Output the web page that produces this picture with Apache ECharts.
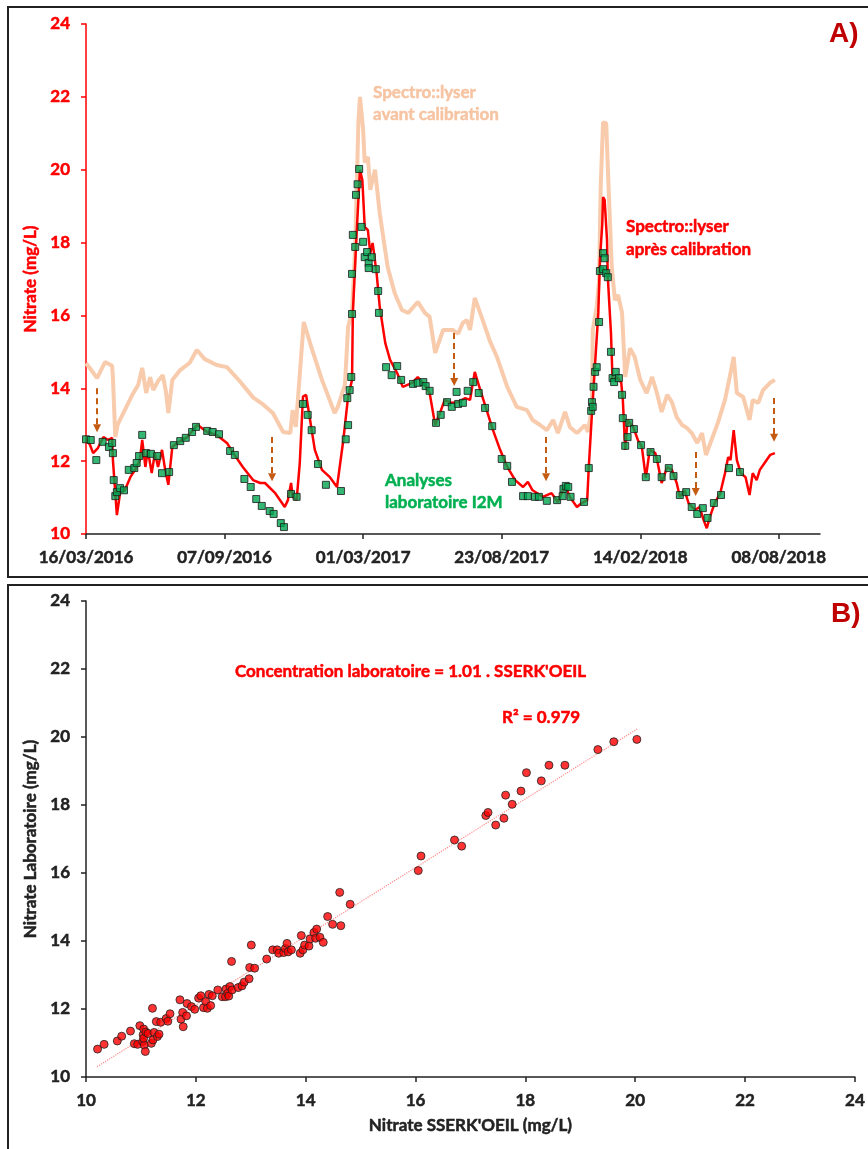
<!DOCTYPE html>
<html lang="fr">
<head>
    <meta charset="UTF-8">
    <title>Nitrate - Spectro::lyser</title>
    <script src="https://cdn.jsdelivr.net/npm/echarts@6.0.0/dist/echarts.min.js"></script>
    <style>
        html, body { margin: 0; padding: 0; background: #fff; }
        #main { width: 868px; height: 1149px; }
    </style>
</head>
<body>
<div id="main"></div>
<script type="text/javascript">
    // --- donnees (jours depuis le 16/03/2016, mg/L) ---
    var startDate = '2016-03-16';
    var endDate = '2018-09-29';
    var tickDates = ['2016-03-16', '2016-09-07', '2017-03-01', '2017-08-23', '2018-02-14', '2018-08-08'];

    // Spectro::lyser avant calibration
    var avantCalib = [[0,14.69],[5,14.55],[14,14.28],[24,14.72],[33,14.62],[34,14.3],[37,12.66],[40,13.0],[49,13.4],[58,13.8],
        [66,14.1],[71,14.56],[76,13.87],[81,14.3],[85,13.95],[91,14.2],[97,14.36],[101,13.9],[104,13.32],[109,14.23],
        [119,14.5],[131,14.7],[140,15.05],[150,14.8],[165,14.64],[178,14.58],[194,14.2],[211,13.75],[224,13.55],[236,13.32],
        [249,12.8],[258,12.77],[261,13.4],[265,12.94],[275,15.82],[285,15.1],[298,14.23],[314,13.32],[318,13.49],[327,14.1],
        [331,15.68],[336,16.1],[340,17.88],[344,21.3],[346,22.0],[350,21.1],[352,20.2],[356,20.35],[359,19.45],[365,20.0],
        [371,18.8],[381,17.33],[390,16.6],[399,16.15],[407,16.07],[419,16.37],[428,16.07],[434,15.96],[441,14.97],[451,15.6],
        [463,15.6],[470,15.5],[476,15.8],[481,15.87],[485,15.6],[491,16.48],[501,15.87],[510,15.3],[519,14.86],[532,14.04],
        [544,13.49],[557,13.4],[564,13.13],[573,13.0],[582,12.85],[590,13.13],[596,12.77],[605,13.35],[611,12.94],[620,12.77],
        [630,12.99],[634,12.8],[639,13.49],[640,15.6],[645,16.23],[648,16.97],[650,19.5],[653,21.3],[657,21.28],[659,20.07],
        [664,17.33],[668,16.42],[672,16.56],[677,16.07],[681,14.31],[687,15.1],[693,14.86],[700,14.23],[708,13.87],[715,14.31],
        [721,13.87],[727,13.35],[734,13.82],[740,13.62],[746,13.21],[753,12.99],[759,12.91],[765,12.77],[772,12.5],[778,12.77],
        [783,12.17],[790,12.58],[798,13.05],[807,13.68],[813,14.31],[818,14.86],[822,13.87],[830,13.76],[838,13.13],[842,13.68],
        [849,13.6],[855,13.95],[864,14.15],[870,14.23]];

    // Spectro::lyser apres calibration
    var apresCalib = [[0,12.6],[5,12.45],[9,12.22],[15,12.36],[22,12.66],[28,12.58],[33,12.64],[34,12.03],[37,11.12],[39,10.52],
        [43,11.12],[49,11.2],[56,11.56],[62,11.76],[68,12.03],[71,12.58],[75,11.84],[78,12.31],[83,11.67],[87,12.22],
        [91,11.84],[96,12.31],[100,11.76],[104,11.35],[109,12.39],[115,12.5],[128,12.66],[138,12.94],[141,12.99],[153,12.8],
        [165,12.72],[178,12.5],[186,12.22],[198,11.84],[211,11.48],[220,11.4],[226,11.4],[239,11.12],[251,10.74],[255,10.93],
        [259,11.4],[261,11.02],[266,10.93],[270,11.95],[274,13.77],[278,13.82],[283,13.13],[289,12.31],[298,11.76],[308,11.56],
        [317,11.29],[325,12.58],[331,13.77],[336,14.23],[337,16.07],[342,18.34],[346,20.0],[349,19.72],[352,18.43],[356,18.34],
        [359,17.71],[362,17.99],[367,17.16],[371,16.23],[378,15.24],[384,14.78],[393,14.42],[400,14.04],[412,14.15],[419,14.31],
        [428,14.09],[434,13.87],[441,12.99],[447,13.32],[453,13.68],[462,13.6],[470,13.62],[479,13.73],[485,13.68],[491,14.45],
        [498,13.95],[506,13.4],[514,12.85],[523,12.31],[532,11.84],[542,11.48],[552,11.29],[558,11.43],[564,11.2],[577,11.02],
        [588,11.12],[596,10.88],[605,11.35],[611,11.02],[620,10.74],[626,10.85],[633,10.93],[635,11.84],[639,13.32],[643,14.69],
        [647,16.07],[649,17.5],[652,18.5],[653,19.25],[655,19.17],[658,18.07],[659,17.05],[663,15.52],[665,14.23],[671,14.31],
        [676,14.15],[678,13.68],[681,12.31],[684,13.13],[691,12.94],[697,12.58],[702,12.39],[707,11.54],[712,12.31],[719,12.22],
        [722,11.95],[727,11.4],[734,11.84],[740,11.76],[746,11.4],[750,11.02],[756,11.2],[761,10.85],[769,10.66],[775,10.74],
        [780,10.38],[784,10.16],[788,10.47],[794,10.85],[801,11.12],[807,11.67],[811,12.11],[814,12.03],[818,12.85],[822,12.03],
        [827,11.67],[833,11.56],[838,11.07],[842,11.67],[847,11.48],[851,11.76],[857,11.95],[864,12.17],[870,12.22]];

    // Analyses laboratoire I2M
    var labI2M = [[0,12.6],[6,12.58],[13,12.03],[21,12.53],[29,12.39],[33,12.5],[34,12.22],[35,11.48],[37,11.04],[39,11.15],
        [43,11.26],[48,11.2],[54,11.76],[61,11.81],[64,11.95],[67,12.14],[71,12.72],[76,12.22],[82,12.2],[90,12.14],
        [96,11.67],[105,11.7],[111,12.44],[119,12.55],[126,12.64],[134,12.8],[139,12.94],[153,12.83],[160,12.8],[168,12.74],
        [182,12.28],[188,12.17],[200,11.51],[208,11.29],[215,10.96],[222,10.77],[232,10.63],[237,10.55],[246,10.3],[250,10.19],
        [259,11.1],[266,11.02],[274,13.57],[280,13.27],[285,12.85],[293,11.92],[303,11.35],[322,11.18],[328,12.6],[330,13.73],
        [331,12.99],[333,13.95],[335,14.31],[336,16.04],[336,17.14],[337,18.21],[340,17.88],[341,19.31],[343,19.6],[345,20.02],
        [348,18.43],[350,18.02],[352,17.6],[355,17.74],[357,17.44],[357,17.3],[361,17.6],[366,17.27],[369,16.67],[370,16.07],
        [379,14.58],[386,14.36],[393,14.61],[398,14.23],[413,14.12],[419,14.15],[426,14.17],[429,14.06],[434,13.93],[442,13.05],
        [448,13.27],[456,13.62],[462,13.49],[468,13.9],[470,13.57],[476,13.6],[482,13.93],[489,14.17],[496,13.87],[504,13.46],
        [513,12.96],[525,12.06],[532,11.87],[538,11.43],[552,11.04],[558,11.04],[567,11.02],[572,11.02],[582,10.91],[595,10.93],
        [602,11.04],[603,11.24],[606,11.32],[609,11.29],[612,11.02],[629,10.88],[635,11.81],[638,13.38],[639,13.62],[640,13.49],
        [641,14.04],[643,14.45],[645,14.58],[648,15.82],[649,17.22],[653,17.71],[653,17.27],[655,17.57],[657,17.16],[659,17.05],
        [663,15.0],[665,14.28],[667,14.17],[669,14.45],[673,14.28],[677,13.82],[678,13.18],[681,12.42],[684,12.66],[686,13.05],
        [692,12.88],[701,12.44],[707,11.56],[713,12.25],[721,12.06],[727,11.56],[736,11.81],[742,11.59],[750,11.07],[758,11.15],
        [765,10.74],[772,10.55],[779,10.71],[785,10.44],[793,10.85],[802,11.07],[812,11.81],[826,11.7]];

    // fleches de correction : jour, depart, arrivee
    var arrowDays = [14, 235, 465, 581, 770, 869];
    var arrowFrom = [14.0, 12.66, 15.52, 12.66, 12.25, 13.73];
    var arrowTo = [12.9, 11.56, 14.17, 11.56, 11.15, 12.64];

    // panneau B : SSERK'OEIL vs laboratoire
    var sserkVsLab = [[10.21,10.82],[10.33,10.96],[10.57,11.06],[10.65,11.2],[10.81,11.35],[10.88,10.98],[10.94,10.96],[10.98,11.51],
        [11.03,11.04],[11.04,11.24],[11.05,11.41],[11.06,10.94],[11.05,11.14],[11.08,10.75],[11.09,11.32],[11.13,11.28],
        [11.19,10.99],[11.21,12.02],[11.22,11.09],[11.24,11.31],[11.28,11.63],[11.3,11.19],[11.33,11.26],[11.36,11.61],
        [11.46,11.72],[11.49,11.64],[11.53,11.86],[11.71,12.27],[11.73,11.7],[11.76,11.9],[11.77,11.48],[11.83,11.8],
        [11.84,12.16],[11.92,12.07],[11.98,11.99],[12.05,12.32],[12.09,12.39],[12.14,12.04],[12.18,12.22],[12.21,12.02],
        [12.24,12.43],[12.27,12.1],[12.3,12.39],[12.4,12.56],[12.48,12.36],[12.54,12.36],[12.55,12.59],[12.58,12.46],
        [12.6,12.38],[12.62,12.66],[12.65,13.4],[12.66,12.56],[12.77,12.63],[12.84,12.68],[12.88,12.79],[12.97,12.89],
        [12.98,13.22],[13.01,13.88],[13.07,13.2],[13.29,13.47],[13.4,13.74],[13.48,13.74],[13.51,13.64],[13.6,13.66],
        [13.63,13.78],[13.66,13.93],[13.68,13.68],[13.74,13.74],[13.9,13.64],[13.92,14.16],[13.95,13.74],[13.98,13.88],
        [14.06,13.85],[14.08,14.06],[14.15,14.25],[14.18,14.08],[14.2,14.35],[14.26,14.11],[14.32,13.96],[14.4,14.72],
        [14.49,14.49],[14.62,15.43],[14.64,14.45],[14.81,15.08],[16.05,16.07],[16.1,16.5],[16.71,16.97],[16.84,16.79],
        [17.28,17.69],[17.32,17.78],[17.46,17.41],[17.61,17.61],[17.64,18.29],[17.76,18.02],[17.92,18.41],[18.02,18.95],
        [18.29,18.71],[18.43,19.17],[18.72,19.17],[19.32,19.63],[19.61,19.86],[20.03,19.93]];

    // droite de regression affichee : labo = 1.01 . SSERK'OEIL
    var trendSlope = 1.01;
    var trendRange = [10.2, 20.05];

    var DAY = 86400000;
    var t0 = Date.parse(startDate);
    function toTs(d) { return t0 + d * DAY; }
    function pad(n) { return (n < 10 ? '0' : '') + n; }
    function fmtDate(ts) {
        var d = new Date(ts);
        return pad(d.getUTCDate()) + '/' + pad(d.getUTCMonth() + 1) + '/' + d.getUTCFullYear();
    }
    function toSeries(arr) {
        return arr.map(function (p) { return [toTs(p[0]), p[1]]; });
    }

    var tickTs = tickDates.map(function (s) { return Date.parse(s); });
    var arrowData = arrowDays.map(function (d, i) {
        return { coords: [[toTs(d), arrowFrom[i]], [toTs(d), arrowTo[i]]] };
    });
    var trendData = trendRange.map(function (x) { return [x, trendSlope * x]; });

    var FONT = 'Lato, "Open Sans", sans-serif';
    // texte gras un peu renforce (Calibri Bold dans l'original)
    function boldText(color) {
        return { color: color, fontFamily: FONT, fontWeight: 'bold', fontSize: 17, textBorderColor: color, textBorderWidth: 0.5 };
    }
    function note(x, y, text, color, lh) {
        return {
            type: 'text', x: x, y: y,
            style: { text: text, fill: color, font: 'bold 17px ' + FONT, lineHeight: lh || 22, stroke: color, lineWidth: 0.5 }
        };
    }

    var myChart = echarts.init(document.getElementById('main'));

    myChart.setOption({
        backgroundColor: '#ffffff',
        animation: false,
        grid: [
            { left: 86, right: 48, top: 24, bottom: 615 },
            { left: 86, right: 11, top: 601, bottom: 72 }
        ],
        xAxis: [
            {
                type: 'value',
                gridIndex: 0,
                min: t0,
                max: Date.parse(endDate),
                splitLine: { show: false },
                axisLine: { show: true, onZero: false, lineStyle: { color: '#222', width: 1.5 } },
                axisTick: { show: true, customValues: tickTs, length: 5, lineStyle: { color: '#222', width: 1.5 } },
                axisLabel: Object.assign({ customValues: tickTs, margin: 15, formatter: fmtDate }, boldText('#222'))
            },
            {
                type: 'value',
                gridIndex: 1,
                min: 10,
                max: 24,
                interval: 2,
                splitLine: { show: false },
                axisLine: { show: true, onZero: false, lineStyle: { color: '#222', width: 1.5 } },
                axisTick: { show: true, length: 5, lineStyle: { color: '#222', width: 1.5 } },
                axisLabel: Object.assign({ margin: 15 }, boldText('#222')),
                name: "Nitrate SSERK'OEIL (mg/L)",
                nameLocation: 'middle',
                nameGap: 40,
                nameTextStyle: boldText('#222')
            }
        ],
        yAxis: [
            {
                type: 'value',
                gridIndex: 0,
                min: 10,
                max: 24,
                interval: 2,
                splitLine: { show: false },
                axisLine: { show: true, onZero: false, lineStyle: { color: '#ff0000', width: 1.5 } },
                axisTick: { show: true, length: 5, lineStyle: { color: '#ff0000', width: 1.5 } },
                axisLabel: Object.assign({ margin: 16 }, boldText('#ff0000')),
                name: 'Nitrate (mg/L)',
                nameLocation: 'middle',
                nameGap: 43,
                nameTextStyle: boldText('#ff0000')
            },
            {
                type: 'value',
                gridIndex: 1,
                min: 10,
                max: 24,
                interval: 2,
                splitLine: { show: false },
                axisLine: { show: true, onZero: false, lineStyle: { color: '#222', width: 1.5 } },
                axisTick: { show: true, length: 5, lineStyle: { color: '#222', width: 1.5 } },
                axisLabel: Object.assign({ margin: 16 }, boldText('#222')),
                name: 'Nitrate Laboratoire (mg/L)',
                nameLocation: 'middle',
                nameGap: 43,
                nameTextStyle: boldText('#222')
            }
        ],
        series: [
            {
                name: 'avant calibration',
                type: 'line',
                xAxisIndex: 0, yAxisIndex: 0,
                data: toSeries(avantCalib),
                showSymbol: false,
                lineStyle: { color: '#f8cbad', width: 4 },
                z: 1
            },
            {
                name: 'apres calibration',
                type: 'line',
                xAxisIndex: 0, yAxisIndex: 0,
                data: toSeries(apresCalib),
                showSymbol: false,
                lineStyle: { color: '#ff0000', width: 2.5 },
                z: 2
            },
            {
                name: 'fleches',
                type: 'lines',
                coordinateSystem: 'cartesian2d',
                xAxisIndex: 0, yAxisIndex: 0,
                data: arrowData,
                symbol: ['none', 'triangle'],
                symbolSize: 8,
                lineStyle: { color: '#c55a11', width: 2, type: [6, 4], opacity: 1 },
                z: 3
            },
            {
                name: 'laboratoire I2M',
                type: 'scatter',
                xAxisIndex: 0, yAxisIndex: 0,
                data: toSeries(labI2M),
                symbol: 'rect',
                symbolSize: 7,
                itemStyle: { color: '#00a550', borderColor: '#1a1a1a', borderWidth: 1 },
                z: 4
            },
            {
                name: 'tendance',
                type: 'line',
                xAxisIndex: 1, yAxisIndex: 1,
                data: trendData,
                showSymbol: false,
                lineStyle: { color: '#ff8a8a', width: 1.2, type: 'dotted' },
                z: 1
            },
            {
                name: 'SSERK vs labo',
                type: 'scatter',
                xAxisIndex: 1, yAxisIndex: 1,
                data: sserkVsLab,
                symbol: 'circle',
                symbolSize: 8,
                itemStyle: { color: '#ff0000', borderColor: '#222', borderWidth: 1 },
                z: 2
            }
        ],
        graphic: [
            { type: 'rect', shape: { x: 8, y: 7, width: 880, height: 570 }, style: { fill: 'none', stroke: '#222', lineWidth: 2 }, silent: true },
            { type: 'rect', shape: { x: 8, y: 585, width: 880, height: 600 }, style: { fill: 'none', stroke: '#222', lineWidth: 2 }, silent: true },
            { type: 'text', x: 829, y: 34, style: { text: 'A)', fill: '#c00000', font: 'bold 28px "Liberation Sans", Arial, sans-serif', verticalAlign: 'middle' } },
            { type: 'text', x: 831, y: 614, style: { text: 'B)', fill: '#c00000', font: 'bold 28px "Liberation Sans", Arial, sans-serif', verticalAlign: 'middle' } },
            note(373, 82, 'Spectro::lyser\navant calibration', '#f6c4a2'),
            note(626, 215, 'Spectro::lyser\naprès calibration', '#ff0000', 23),
            note(385, 470, 'Analyses\nlaboratoire I2M', '#00b050'),
            note(235, 661, "Concentration laboratoire = 1.01 . SSERK'OEIL", '#ff0000'),
            note(502, 707, 'R² = 0.979', '#ff0000')
        ]
    });
</script>
</body>
</html>
